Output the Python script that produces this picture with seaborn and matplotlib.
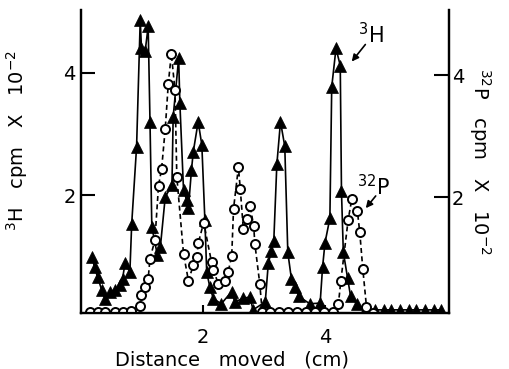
import matplotlib
matplotlib.use("Agg")
import matplotlib.pyplot as plt
import seaborn as sns

# ---- data ----
# 3H (solid line, filled triangles), left axis
h3_dist = [0.18, 0.22, 0.27, 0.34, 0.39, 0.48, 0.56, 0.63, 0.68, 0.72, 0.80, 0.83,
           0.91, 0.97, 0.99, 1.05, 1.10, 1.13, 1.16, 1.25, 1.30, 1.38, 1.49, 1.51,
           1.60, 1.62, 1.68, 1.73, 1.76, 1.81, 1.84, 1.92, 1.98, 2.03, 2.06, 2.11,
           2.17, 2.30, 2.47, 2.52, 2.66, 2.77, 2.82, 3.02, 3.07, 3.12, 3.16, 3.21,
           3.27, 3.34, 3.39, 3.45, 3.51, 3.57, 3.75, 3.92, 3.96, 4.00, 4.08, 4.11,
           4.18, 4.25, 4.27, 4.30, 4.37, 4.42, 4.53, 4.66, 4.82, 4.96, 5.09, 5.23,
           5.37, 5.50, 5.64, 5.78, 5.91]
h3_cpm = [0.99, 0.82, 0.66, 0.44, 0.30, 0.42, 0.45, 0.52, 0.63, 0.88, 0.74, 1.53,
          2.79, 4.87, 4.40, 4.35, 4.76, 3.20, 1.48, 1.02, 1.15, 1.97, 2.16, 3.28,
          4.24, 3.50, 2.08, 1.92, 1.78, 2.41, 2.71, 3.20, 2.82, 1.59, 0.74, 0.50,
          0.30, 0.22, 0.42, 0.25, 0.31, 0.33, 0.12, 0.25, 0.88, 1.08, 1.25, 2.50,
          3.20, 2.80, 1.06, 0.62, 0.50, 0.34, 0.22, 0.23, 0.82, 1.22, 1.62, 3.77,
          4.40, 4.12, 2.06, 1.07, 0.64, 0.34, 0.21, 0.12, 0.12, 0.12, 0.12, 0.12,
          0.12, 0.12, 0.12, 0.12, 0.12]

# 32P (dashed line, open circles), right axis
p32_dist = [0.15, 0.27, 0.40, 0.55, 0.68, 0.82, 0.97, 0.99, 1.05, 1.10, 1.13, 1.21,
            1.27, 1.32, 1.38, 1.43, 1.48, 1.54, 1.57, 1.68, 1.76, 1.84, 1.90, 1.92,
            2.01, 2.14, 2.17, 2.25, 2.36, 2.41, 2.47, 2.50, 2.58, 2.61, 2.66, 2.72,
            2.77, 2.83, 2.85, 2.93, 2.97, 3.10, 3.25, 3.39, 3.54, 3.69, 3.84, 3.98,
            4.13, 4.22, 4.26, 4.38, 4.44, 4.53, 4.57, 4.62, 4.68, 4.79]
p32_cpm = [0.12, 0.12, 0.12, 0.12, 0.12, 0.13, 0.22, 0.39, 0.52, 0.66, 0.99, 1.29,
           2.19, 2.46, 3.12, 3.86, 4.35, 3.75, 2.33, 1.07, 0.63, 0.88, 1.02, 1.24,
           1.58, 0.93, 0.80, 0.58, 0.63, 0.77, 1.03, 1.81, 2.49, 2.14, 1.48, 1.64,
           1.86, 1.53, 1.23, 0.58, 0.12, 0.12, 0.12, 0.12, 0.12, 0.12, 0.12, 0.12,
           0.12, 0.25, 0.63, 1.63, 1.97, 1.78, 1.42, 0.82, 0.20, 0.10]

x_ticks = [2, 4]
y_ticks = [2, 4]

# ---- figure ----
sns.set_style("ticks")
plt.rcParams["font.family"] = ["DejaVu Sans"]
plt.rcParams["mathtext.default"] = "regular"
for key in ("text.color", "axes.labelcolor", "xtick.color", "ytick.color"):
    plt.rcParams[key] = "black"

fig = plt.figure(figsize=(5.1, 3.69), dpi=100)
ax = fig.add_axes([0.159, 0.152, 0.721, 0.821])
ax2 = ax.twinx()

sns.lineplot(x=h3_dist, y=h3_cpm, ax=ax, sort=False, estimator=None,
             color="black", lw=1.2, marker="^", ms=8.5, mec="black", mew=0.5)
sns.lineplot(x=p32_dist, y=p32_cpm, ax=ax2, sort=False, estimator=None,
             color="black", lw=1.2, linestyle=(0, (3, 2)), marker="o", ms=6.5,
             mfc="white", mec="black", mew=1.4)

ax.set_xlim(0, 6.03)
ax.set_ylim(0.07, 5.03)
ax2.set_ylim(0.1, 5.07)

for a in (ax, ax2):
    a.spines["top"].set_visible(False)
    for s in a.spines.values():
        s.set_linewidth(1.6)
        s.set_color("black")

ax.set_xticks(x_ticks)
ax.set_yticks(y_ticks)
ax2.set_yticks(y_ticks)
ax.tick_params(axis="x", direction="in", length=6, width=1.5, pad=11, labelsize=14)
ax.tick_params(axis="y", direction="in", length=10, width=1.5, pad=4, labelsize=14)
ax2.tick_params(axis="y", direction="in", length=11, width=1.5, pad=2, labelsize=14)

ax.set_xlabel("Distance   moved   (cm)", fontsize=14)
ax.xaxis.set_label_coords(0.41, -0.125)
ax.set_ylabel(r"$^{3}$H   cpm   X   10$^{-2}$", fontsize=14, va="center")
ax.yaxis.set_label_coords(-0.175, 0.57)
ax2.set_ylabel(r"$^{32}$P   cpm   X   10$^{-2}$", fontsize=14, rotation=270, va="center")
ax2.yaxis.set_label_coords(1.085, 0.5)

ax.text(4.54, 4.48, r"$^{3}$H", fontsize=15)
ax.annotate("", xy=(4.41, 4.15), xytext=(4.69, 4.5),
            arrowprops=dict(arrowstyle="-|>", color="black", lw=1.2, mutation_scale=10))
ax.text(4.52, 2.0, r"$^{32}$P", fontsize=15)
ax.annotate("", xy=(4.64, 1.75), xytext=(4.86, 2.02),
            arrowprops=dict(arrowstyle="-|>", color="black", lw=1.2, mutation_scale=10))

fig.savefig("out.png", dpi=100)
